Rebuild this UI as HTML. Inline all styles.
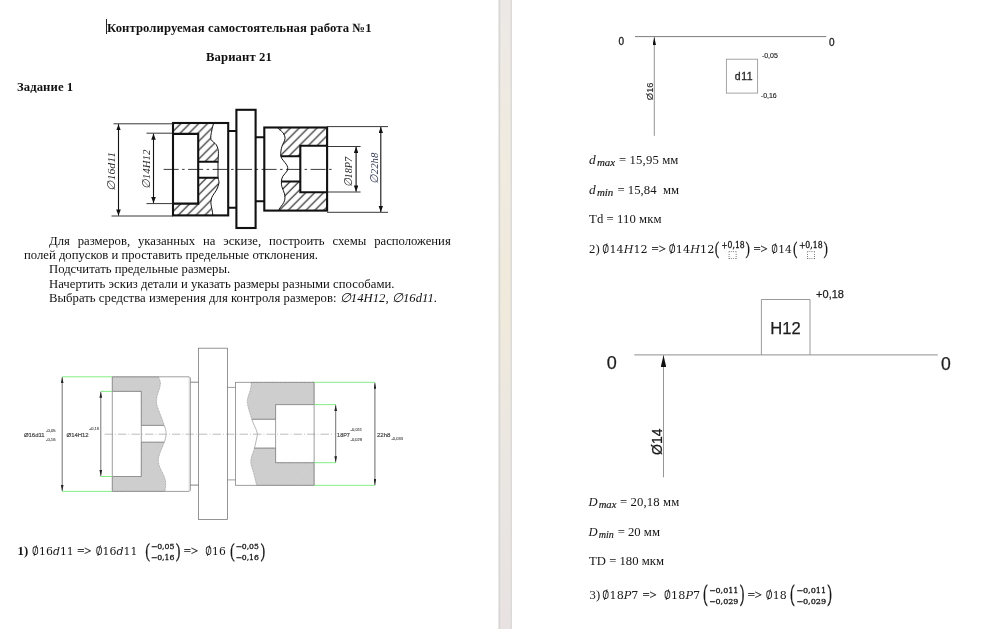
<!DOCTYPE html>
<html lang="ru">
<head>
<meta charset="utf-8">
<title>Контролируемая самостоятельная работа №1</title>
<style>
html,body{margin:0;padding:0;}
body{width:1000px;height:629px;position:relative;overflow:hidden;background:#fff;
  font-family:"Liberation Serif",serif;color:#111;}
.page{position:absolute;top:0;height:629px;background:#fff;}
#p1{left:0;width:498px;}
#p2{left:512px;width:488px;}
#gap{position:absolute;left:499px;top:0;width:13px;height:629px;background:#ece8e3;}
.t{will-change:transform;position:absolute;white-space:nowrap;font-size:12.7px;line-height:14px;height:14px;margin:0;}
.b{font-weight:bold;}
.i{font-style:italic;}
.m{font-family:"DejaVu Serif","Liberation Serif",serif;}
#caret{position:absolute;left:106px;top:19px;width:1px;height:15px;background:#222;}
svg{position:absolute;left:0;top:0;will-change:transform;}
</style>
</head>
<body>
<div id="p1" class="page"></div>
<div id="gap"></div>
<div id="p2" class="page"></div>

<!-- LEFT PAGE TEXT -->
<div id="caret"></div>
<h1 class="t b" id="t1" style="left:107px;top:21px;letter-spacing:0.08px;">Контролируемая самостоятельная работа №1</h1>
<h2 class="t b" id="t2" style="left:206px;top:50px;letter-spacing:0.1px;">Вариант 21</h2>
<h3 class="t b" id="t3" style="left:16.5px;top:80px;letter-spacing:0.08px;">Задание 1</h3>

<p class="t" id="l1" style="left:49px;top:234px;word-spacing:4.75px;">Для размеров, указанных на эскизе, построить схемы расположения</p>
<p class="t" id="l2" style="left:24px;top:248px;">полей допусков и проставить предельные отклонения.</p>
<p class="t" id="l3" style="left:49px;top:262px;">Подсчитать предельные размеры.</p>
<p class="t" id="l4" style="left:49px;top:277px;letter-spacing:0.025px;">Начертить эскиз детали и указать размеры разными способами.</p>
<p class="t" id="l5" style="left:49px;top:291px;letter-spacing:0.035px;">Выбрать средства измерения для контроля размеров: <i>∅14H12, ∅16d11.</i></p>

<!-- DRAWINGS -->
<svg id="draw" width="1000" height="629" viewBox="0 0 1000 629">

<!-- page gap -->
<defs>
  <linearGradient id="gg" x1="0" y1="0" x2="0" y2="1">
    <stop offset="0" stop-color="#ece8e6"/>
    <stop offset="0.22" stop-color="#f0ebe0"/>
    <stop offset="0.5" stop-color="#f0eadc"/>
    <stop offset="0.74" stop-color="#eae6e2"/>
    <stop offset="1" stop-color="#e8e3e2"/>
  </linearGradient>
</defs>
<rect x="498" y="0" width="15" height="629" fill="#fff"/>
<rect x="498.6" y="0" width="13.4" height="629" fill="url(#gg)"/>
<rect x="498.6" y="0" width="1.6" height="629" fill="#d8d6d4"/>
<rect x="510.5" y="0" width="1.5" height="629" fill="#dcdad8"/>

<defs>
  <pattern id="h1" patternUnits="userSpaceOnUse" width="8.9" height="8.9" patternTransform="translate(1.8,0)">
    <path d="M-1,9.9 L9.9,-1 M-1,1 L1,-1 M7.9,9.9 L9.9,7.9" stroke="#0c0c0c" stroke-width="1.05" fill="none"/>
  </pattern>
  <pattern id="h2" patternUnits="userSpaceOnUse" width="8.9" height="8.9">
    <path d="M-1,9.9 L9.9,-1 M-1,1 L1,-1 M7.9,9.9 L9.9,7.9" stroke="#0c0c0c" stroke-width="1.05" fill="none"/>
  </pattern>
  <marker id="ar" preserveAspectRatio="none" viewBox="0 0 10 6" refX="10" refY="3" markerWidth="6.2" markerHeight="4.6" orient="auto-start-reverse" markerUnits="userSpaceOnUse">
    <path d="M0,0 L10,3 L0,6 Z" fill="#111"/>
  </marker>
</defs>
<!-- ===== Drawing 1 : task sketch ===== -->
<g id="d1" fill="none" stroke="#111" stroke-linecap="butt" stroke-linejoin="miter">
  <!-- hatch left block -->
  <path fill="url(#h1)" stroke="none" d="M173,123 L213.6,123 L211.9,129.9 L211,139.5 L216.3,144.8 L218.4,153.5 L218,161.8 L198.2,161.8 L198.2,133.9 L173,133.9 Z"/>
  <path fill="url(#h1)" stroke="none" d="M173,203.6 L198.2,203.6 L198.2,177.8 L218,177.8 L218.9,183.3 L216.3,190.3 L211.9,197.3 L211,204.3 L212.8,215.4 L173,215.4 Z"/>
  <!-- hatch right block -->
  <path fill="url(#h2)" stroke="none" d="M277.5,127.5 L327,127.5 L327,145.8 L300.3,145.8 L300.3,156.2 L280.7,156.2 L281.9,146.5 L285,138.6 L282.8,132.5 Z"/>
  <path fill="url(#h2)" stroke="none" d="M281.4,181.5 L300.3,181.5 L300.3,192.2 L327,192.2 L327,210.6 L278.4,210.6 L280.1,207.8 L284.5,200.8 L284.5,193.8 L281.9,186.8 Z"/>
  <!-- wavy break lines -->
  <path stroke-width="1" d="M213.6,123 C213,126 212.2,127.5 211.9,129.9 C211.4,133.5 210,137 211,139.5 C212.5,142 215,142.8 216.3,144.8 C217.8,147.5 218.6,150.5 218.4,153.5 C218.3,156.5 218.3,159 218,161.8 L218,177.8 C218.4,180 219.3,181.5 218.9,183.3 C218.4,186 217.5,188 216.3,190.3 C214.8,193 212.8,195 211.9,197.3 C211,199.8 210.7,202 211,204.3 C211.4,207.5 212.6,211 212.8,215.4"/>
  <path stroke-width="1" d="M277.5,127.5 C279,130 281.5,130.8 282.8,132.5 C284.3,134.4 285.2,136.5 285,138.6 C284.6,141.5 282.8,143.8 281.9,146.5 C281,149.5 280.6,152.5 280.7,156.2 C281.2,158 282.4,159.4 283.6,160.9 C285.2,163 287.4,165.2 287.7,167.5 C287.9,168.8 287.7,169.9 287.1,171 C286,173 283.8,174.4 282.8,176.3 C281.9,178 281.4,180 281.4,181.5 C281.3,183.4 281.4,185 281.9,186.8 C282.5,189.2 284,191.3 284.5,193.8 C285,196.2 285.2,198.6 284.5,200.8 C283.6,203.5 281.5,205.6 280.1,207.8 C279.5,208.8 278.9,209.6 278.4,210.6"/>
  <!-- centre line -->
  <path stroke-width="0.85" stroke="#1a1a1a" stroke-dasharray="15 3.5 2.5 3.5" d="M163.6,169.4 L335,169.4"/>
  <!-- thick outlines -->
  <g stroke-width="2.1">
    <rect x="173" y="123" width="55.2" height="92.4"/>
    <path d="M173,133.9 L198.2,133.9 L198.2,203.6 L173,203.6"/>
    <path d="M198.2,161.8 L218.4,161.8 M198.2,177.8 L218.4,177.8"/>
    <path d="M228.2,131 L236.4,131 M228.2,207.7 L236.4,207.7"/>
    <rect x="236.4" y="109.8" width="19.2" height="118.2"/>
    <path d="M255.6,137.2 L264.3,137.2 M255.6,201.2 L264.3,201.2"/>
    <rect x="264.3" y="127.5" width="62.8" height="83.1"/>
    <path d="M327,145.8 L300.3,145.8 L300.3,192.2 L327,192.2"/>
    <path d="M281,156.2 L300.3,156.2 M281.4,181.5 L300.3,181.5"/>
  </g>
  <!-- extension + dimension lines -->
  <g stroke-width="0.9" stroke="#222">
    <path d="M113.5,123.8 L173,123.8 M111.5,216 L173,216"/>
    <path d="M146.5,133.2 L173,133.2 M146.5,203.6 L173,203.6"/>
    <path d="M327,126.6 L388,126.6 M327,212.3 L388,212.3"/>
    <path d="M327,146.5 L360.6,146.5 M327,192 L360.6,192"/>
    <g stroke-width="1.1" stroke="#111">
    <path d="M118.5,124.2 L118.5,215.6" marker-start="url(#ar)" marker-end="url(#ar)"/>
    <path d="M153.5,133.6 L153.5,203.2" marker-start="url(#ar)" marker-end="url(#ar)"/>
    <path d="M356.1,146.9 L356.1,191.6" marker-start="url(#ar)" marker-end="url(#ar)"/>
    <path d="M380.8,127 L380.8,211.9" marker-start="url(#ar)" marker-end="url(#ar)"/>
    </g>
  </g>
</g>
<g font-family="'Liberation Serif',serif" font-style="italic" font-size="11.2" fill="#2a2a2a" text-anchor="middle">
  <text transform="translate(114.8,171.4) rotate(-90)" textLength="38.8" lengthAdjust="spacingAndGlyphs">∅16d11</text>
  <text transform="translate(150.1,169.2) rotate(-90)" textLength="39.4" lengthAdjust="spacingAndGlyphs">∅14H12</text>
  <text transform="translate(352.2,172.2) rotate(-90)" textLength="30.6" lengthAdjust="spacingAndGlyphs">∅18P7</text>
  <text transform="translate(378.3,168.3) rotate(-90)" textLength="31.1" lengthAdjust="spacingAndGlyphs" fill="#2c3550">∅22h8</text>
</g>

<!-- ===== Drawing 2 : CAD sketch ===== -->
<defs>
  <pattern id="h3" patternUnits="userSpaceOnUse" width="1.7" height="8" patternTransform="rotate(45)">
    <rect width="1.7" height="8" fill="#efefef"/>
    <rect x="0.5" width="0.62" height="8" fill="#959595"/>
  </pattern>
  <marker id="ar2" preserveAspectRatio="none" viewBox="0 0 10 5" refX="10" refY="2.5" markerWidth="6" markerHeight="2.7" orient="auto-start-reverse" markerUnits="userSpaceOnUse">
    <path d="M0,0 L10,2.5 L0,5 Z" fill="#222"/>
  </marker>
</defs>
<g id="d2" fill="none" stroke="#868686" stroke-width="0.8">
  <!-- hatched regions -->
  <path fill="url(#h3)" stroke="#777" stroke-width="0.5" stroke-dasharray="1 0.6" d="M112.3,376.8 L158.5,376.8 C159.5,379.5 160.6,381.5 160.4,384.1 C160,389.5 157,394 156.6,399.3 C156.3,402.5 156.8,405.5 157.9,408.2 C160,414 162.6,419.5 164.2,425.4 L141.3,425.4 L141.3,391.4 L112.3,391.4 Z"/>
  <path fill="url(#h3)" stroke="#777" stroke-width="0.5" stroke-dasharray="1 0.6" d="M141.3,442.2 L164.2,442.2 C162.6,447.5 159.6,452.5 158.5,458.1 C157.9,461.2 158.6,464.2 159.8,467 C161.6,471.5 164.6,476 165.5,481 C166.1,484.5 165.5,488 164.9,491.4 L112.3,491.4 L112.3,476.5 L141.3,476.5 Z"/>
  <path fill="url(#h3)" stroke="#777" stroke-width="0.5" stroke-dasharray="1 0.6" d="M251.2,382.3 L314.1,382.3 L314.1,404.6 L275.6,404.6 L275.6,419.3 L251.8,419.3 C250.2,413.5 247.6,407.8 247.3,401.8 C247.1,397.5 249.6,393.4 250.5,389.1 C251,386.8 251.2,384.6 251.2,382.3 Z"/>
  <path fill="url(#h3)" stroke="#777" stroke-width="0.5" stroke-dasharray="1 0.6" d="M254.5,448.1 L275.6,448.1 L275.6,462.7 L314.1,462.7 L314.1,485.3 L256.5,485.3 C255.9,481.4 254.6,477.6 253.8,473.8 C252.8,469.3 250.3,464.9 250.8,460.3 C251.3,456 253.4,452.2 254.5,448.1 Z"/>
  <!-- hole ends (arcs) -->
  <path d="M164.2,425.4 C166.7,430.8 166.7,436.8 164.2,442.2" stroke-width="0.6"/>
  <path d="M251.8,419.3 C253.4,424.5 256.6,429 257.5,434.2 C256.8,439 255.4,443.5 254.5,448.1" stroke-width="0.6"/>
  <!-- centre line -->
  <path stroke="#aaa" stroke-width="0.8" stroke-dasharray="8.4 2.1 0.9 2.1" d="M104.5,434.2 L334.5,434.2"/>
  <!-- left block -->
  <path d="M112.3,376.8 L189.2,376.8 L190.4,378 L190.4,490.2 L189.2,491.4 L112.3,491.4 Z"/>
  <path d="M189.2,376.8 L189.2,491.4" stroke="#b5b5b5" stroke-width="0.6"/>
  <path d="M112.3,391.4 L141.3,391.4 L141.3,476.5 L112.3,476.5"/>
  <path d="M141.3,425.4 L164.2,425.4 M141.3,442.2 L164.2,442.2"/>
  <!-- necks -->
  <path d="M190.4,382.2 L198.5,382.2 M190.4,485.1 L198.5,485.1" stroke="#666"/>
  <path d="M227.5,387.4 L235.5,387.4 M227.5,479.9 L235.5,479.9" stroke="#888"/>
  <!-- flange -->
  <rect x="198.5" y="348.2" width="29" height="171.2" stroke="#7a7a7a"/>
  <!-- right block -->
  <rect x="235.5" y="382.3" width="78.6" height="103"/>
  <path d="M314.1,404.6 L275.6,404.6 L275.6,462.7 L314.1,462.7"/>
  <path d="M251.8,419.3 L275.6,419.3 M254.5,448.1 L275.6,448.1"/>
  <!-- green extension lines -->
  <g stroke="#6ee96e" stroke-width="0.85">
    <path d="M62,376.8 L112.3,376.8 M62,491.4 L112.3,491.4"/>
    <path d="M100.6,391.4 L112.3,391.4 M100.6,476.5 L112.3,476.5"/>
    <path d="M314.1,382.3 L375,382.3 M314.1,485.3 L375,485.3"/>
    <path d="M314.1,404.6 L336,404.6 M314.1,462.7 L336,462.7"/>
  </g>
  <!-- dimension lines -->
  <g stroke="#333" stroke-width="0.7">
    <path d="M62.2,377.2 L62.2,491" marker-start="url(#ar2)" marker-end="url(#ar2)"/>
    <path d="M100.8,391.8 L100.8,476.1" stroke="#666" stroke-width="0.9" marker-start="url(#ar2)" marker-end="url(#ar2)"/>
    <path d="M335.7,405 L335.7,462.3" marker-start="url(#ar2)" marker-end="url(#ar2)"/>
    <path d="M374.9,382.7 L374.9,484.9" stroke="#777" stroke-width="1.1" marker-start="url(#ar2)" marker-end="url(#ar2)"/>
  </g>
</g>
<g font-family="'Liberation Sans',sans-serif" fill="#4a4a4a" stroke="#4a4a4a" stroke-width="0.2" font-size="5.9">
  <text x="23.9" y="436.6" textLength="20.8" lengthAdjust="spacingAndGlyphs">Ø16d11</text>
  <text x="46.2" y="431.7" font-size="4.2" stroke-width="0.12" textLength="9.5" lengthAdjust="spacingAndGlyphs">-0,05</text>
  <text x="46" y="440.6" font-size="4.2" stroke-width="0.12" textLength="9.5" lengthAdjust="spacingAndGlyphs">-0,16</text>
  <text x="66.5" y="436.6" textLength="22.2" lengthAdjust="spacingAndGlyphs">Ø14H12</text>
  <text x="89" y="430.3" font-size="4.2" stroke-width="0.12" textLength="10" lengthAdjust="spacingAndGlyphs">+0,18</text>
  <text x="337.1" y="436.5" textLength="12.8" lengthAdjust="spacingAndGlyphs">18P7</text>
  <text x="350.6" y="431" font-size="4.2" stroke-width="0.12" textLength="11.4" lengthAdjust="spacingAndGlyphs">-0,011</text>
  <text x="350.6" y="440.8" font-size="4.2" stroke-width="0.12" textLength="11.4" lengthAdjust="spacingAndGlyphs">-0,029</text>
  <text x="376.9" y="436.5" textLength="13.6" lengthAdjust="spacingAndGlyphs">22h8</text>
  <text x="391.4" y="440" font-size="4.2" stroke-width="0.12" textLength="11.6" lengthAdjust="spacingAndGlyphs">-0,033</text>
</g>

<!-- ===== Diagram A : d11 tolerance field ===== -->
<defs>
  <marker id="ar3" preserveAspectRatio="none" viewBox="0 0 12 6" refX="12" refY="3" markerWidth="8" markerHeight="3.4" orient="auto" markerUnits="userSpaceOnUse">
    <path d="M0,0 L12,3 L0,6 Z" fill="#111"/>
  </marker>
  <marker id="ar4" preserveAspectRatio="none" viewBox="0 0 12 6" refX="12" refY="3" markerWidth="12" markerHeight="5.6" orient="auto" markerUnits="userSpaceOnUse">
    <path d="M0,0 L12,3 L0,6 Z" fill="#111"/>
  </marker>
</defs>
<g id="dA" fill="none">
  <path d="M635,36.6 L826.3,36.6" stroke="#6e6e6e" stroke-width="0.9"/>
  <path d="M654.3,135.8 L654.3,37" stroke="#777" stroke-width="0.8" marker-end="url(#ar3)"/>
  <rect x="726.4" y="59.2" width="31.2" height="33.9" stroke="#9a9a9a" stroke-width="0.9"/>
</g>
<g font-family="'Liberation Sans',sans-serif" fill="#222" stroke="#222" stroke-width="0.3">
  <text x="618.4" y="45.1" font-size="10">0</text>
  <text x="829" y="45.8" font-size="10">0</text>
  <text transform="translate(653.3,91.3) rotate(-90)" text-anchor="middle" font-size="9.4" stroke-width="0.1">Ø16</text>
  <text x="734.8" y="80.2" font-size="10.5" textLength="17.8" lengthAdjust="spacing" fill="#2a2a2a">d11</text>
  <text x="761.9" y="58.3" font-size="7" stroke-width="0.15">-0,05</text>
  <text x="760.8" y="97.9" font-size="7" stroke-width="0.15">-0,16</text>
</g>

<!-- ===== Diagram B : H12 tolerance field ===== -->
<g id="dB" fill="none">
  <path d="M634.3,354.9 L937.7,354.9" stroke="#a6a6a6" stroke-width="1.3"/>
  <path d="M663.5,477.3 L663.5,355.2" stroke="#8a8a8a" stroke-width="0.9" marker-end="url(#ar4)"/>
  <path d="M761.4,354.6 L761.4,299.5 L810,299.5 L810,354.6" stroke="#808080" stroke-width="0.8"/>
</g>
<g font-family="'Liberation Sans',sans-serif" fill="#1c1c1c" stroke="#1c1c1c" stroke-width="0.25">
  <text x="606.7" y="368.9" font-size="18">0</text>
  <text x="940.9" y="369.8" font-size="17.6">0</text>
  <text transform="translate(662.2,441.7) rotate(-90)" text-anchor="middle" font-size="14">Ø14</text>
  <text x="770.3" y="334" font-size="16.6">H12</text>
  <text x="816.1" y="297.9" font-size="11">+0,18</text>
</g>

<!-- ===== Equations & right page text ===== -->
<g fill="#161616">
<text font-family="'Liberation Serif',serif" font-size="12.7" font-weight="bold" x="17.6" y="554.6">1)</text>
<text font-family="'DejaVu Math TeX Gyre','DejaVu Serif',serif" font-size="11.8" x="31.8" y="554.6" textLength="42" lengthAdjust="spacingAndGlyphs">∅16<tspan font-family="'DejaVu Serif',serif" font-style="italic">d</tspan>11</text>
<text font-family="'Liberation Serif',serif" font-size="12.7" stroke="#161616" stroke-width="0.25" x="77.2" y="554.6">=&gt;</text>
<text font-family="'DejaVu Math TeX Gyre','DejaVu Serif',serif" font-size="11.8" x="95.4" y="554.6" textLength="42" lengthAdjust="spacingAndGlyphs">∅16<tspan font-family="'DejaVu Serif',serif" font-style="italic">d</tspan>11</text>
<text font-family="'DejaVu Math TeX Gyre','DejaVu Serif',serif" font-size="11.0" stroke="#161616" stroke-width="0.12" transform="translate(144.30,552.2) scale(1.288,1.923)" y="2.9">(</text>
<text font-family="'DejaVu Math TeX Gyre','DejaVu Serif',serif" font-size="8" stroke="#161616" stroke-width="0.3" x="151" y="549.0" textLength="23.5" lengthAdjust="spacingAndGlyphs">−0,05</text>
<text font-family="'DejaVu Math TeX Gyre','DejaVu Serif',serif" font-size="8" stroke="#161616" stroke-width="0.3" x="151" y="560.4" textLength="23.5" lengthAdjust="spacingAndGlyphs">−0,16</text>
<text font-family="'DejaVu Math TeX Gyre','DejaVu Serif',serif" font-size="11.0" stroke="#161616" stroke-width="0.12" transform="translate(175.49,552.2) scale(1.288,1.923)" y="2.9">)</text>
<text font-family="'Liberation Serif',serif" font-size="12.7" stroke="#161616" stroke-width="0.25" x="183.8" y="554.6">=&gt;</text>
<text font-family="'DejaVu Math TeX Gyre','DejaVu Serif',serif" font-size="11.8" x="205" y="554.6" textLength="20.8" lengthAdjust="spacingAndGlyphs">∅16</text>
<text font-family="'DejaVu Math TeX Gyre','DejaVu Serif',serif" font-size="11.0" stroke="#161616" stroke-width="0.12" transform="translate(228.90,552.2) scale(1.288,1.923)" y="2.9">(</text>
<text font-family="'DejaVu Math TeX Gyre','DejaVu Serif',serif" font-size="8" stroke="#161616" stroke-width="0.3" x="235.7" y="549.0" textLength="23.2" lengthAdjust="spacingAndGlyphs">−0,05</text>
<text font-family="'DejaVu Math TeX Gyre','DejaVu Serif',serif" font-size="8" stroke="#161616" stroke-width="0.3" x="235.7" y="560.4" textLength="23.2" lengthAdjust="spacingAndGlyphs">−0,16</text>
<text font-family="'DejaVu Math TeX Gyre','DejaVu Serif',serif" font-size="11.0" stroke="#161616" stroke-width="0.12" transform="translate(260.29,552.2) scale(1.288,1.923)" y="2.9">)</text>
<text font-family="'Liberation Serif',serif" font-style="italic" font-size="13.4" x="589.1" y="163.7">d</text>
<text font-family="'Liberation Serif',serif" font-style="italic" font-size="9.4" stroke="#161616" stroke-width="0.15" x="596.9" y="165.6" textLength="18.2" lengthAdjust="spacingAndGlyphs">max</text>
<text font-family="'Liberation Serif',serif" font-size="12.7" x="619" y="163.7" textLength="59.4" lengthAdjust="spacing">= 15,95 мм</text>
<text font-family="'Liberation Serif',serif" font-style="italic" font-size="13.4" x="589.1" y="193.9">d</text>
<text font-family="'Liberation Serif',serif" font-style="italic" font-size="9.4" stroke="#161616" stroke-width="0.15" x="596.9" y="195.8" textLength="16.4" lengthAdjust="spacingAndGlyphs">min</text>
<text font-family="'Liberation Serif',serif" font-size="12.7" x="617.4" y="193.9" xml:space="preserve" textLength="61.7" lengthAdjust="spacing">= 15,84  мм</text>
<text font-family="'Liberation Serif',serif" font-size="12.7" x="589.1" y="223" textLength="72.4" lengthAdjust="spacing">Td = 110 мкм</text>
<text font-family="'Liberation Serif',serif" font-size="12.7" x="589.1" y="252.9">2)</text>
<text font-family="'DejaVu Math TeX Gyre','DejaVu Serif',serif" font-size="11.8" x="602.1" y="252.9" textLength="45.5" lengthAdjust="spacingAndGlyphs">∅14<tspan font-family="'DejaVu Serif',serif" font-style="italic">H</tspan>12</text>
<text font-family="'Liberation Serif',serif" font-size="12.7" stroke="#161616" stroke-width="0.25" x="651.5" y="252.9">=&gt;</text>
<text font-family="'DejaVu Math TeX Gyre','DejaVu Serif',serif" font-size="11.8" x="668.4" y="252.9" textLength="46" lengthAdjust="spacingAndGlyphs">∅14<tspan font-family="'DejaVu Serif',serif" font-style="italic">H</tspan>12</text>
<text font-family="'DejaVu Math TeX Gyre','DejaVu Serif',serif" font-size="11.0" stroke="#161616" stroke-width="0.12" transform="translate(713.64,250.3) scale(1.220,1.750)" y="2.9">(</text>
<text font-family="'DejaVu Math TeX Gyre','DejaVu Serif',serif" font-size="8.8" stroke="#161616" stroke-width="0.3" x="721.5" y="248.3" textLength="23.2" lengthAdjust="spacingAndGlyphs">+0,18</text>
<text font-family="'DejaVu Sans',sans-serif" font-size="10" x="732.5" y="258.4" text-anchor="middle" fill="#222">⬚</text>
<text font-family="'DejaVu Math TeX Gyre','DejaVu Serif',serif" font-size="11.0" stroke="#161616" stroke-width="0.12" transform="translate(745.33,250.3) scale(1.220,1.750)" y="2.9">)</text>
<text font-family="'Liberation Serif',serif" font-size="12.7" stroke="#161616" stroke-width="0.25" x="753.4" y="252.9">=&gt;</text>
<text font-family="'DejaVu Math TeX Gyre','DejaVu Serif',serif" font-size="11.8" x="771.1" y="252.9" textLength="20.8" lengthAdjust="spacingAndGlyphs">∅14</text>
<text font-family="'DejaVu Math TeX Gyre','DejaVu Serif',serif" font-size="11.0" stroke="#161616" stroke-width="0.12" transform="translate(792.04,250.3) scale(1.220,1.750)" y="2.9">(</text>
<text font-family="'DejaVu Math TeX Gyre','DejaVu Serif',serif" font-size="8.8" stroke="#161616" stroke-width="0.3" x="799.2" y="248.3" textLength="23.4" lengthAdjust="spacingAndGlyphs">+0,18</text>
<text font-family="'DejaVu Sans',sans-serif" font-size="10" x="811" y="258.4" text-anchor="middle" fill="#222">⬚</text>
<text font-family="'DejaVu Math TeX Gyre','DejaVu Serif',serif" font-size="11.0" stroke="#161616" stroke-width="0.12" transform="translate(823.13,250.3) scale(1.220,1.750)" y="2.9">)</text>
<text font-family="'Liberation Serif',serif" font-style="italic" font-size="12.6" x="588.5" y="505.8">D</text>
<text font-family="'Liberation Serif',serif" font-style="italic" font-size="9.4" stroke="#161616" stroke-width="0.15" x="598.7" y="507.7" textLength="17.7" lengthAdjust="spacingAndGlyphs">max</text>
<text font-family="'Liberation Serif',serif" font-size="12.7" x="619.9" y="505.8" textLength="59.4" lengthAdjust="spacing">= 20,18 мм</text>
<text font-family="'Liberation Serif',serif" font-style="italic" font-size="12.6" x="588.5" y="535.7">D</text>
<text font-family="'Liberation Serif',serif" font-style="italic" font-size="9.4" stroke="#161616" stroke-width="0.15" x="598.7" y="537.6" textLength="15.1" lengthAdjust="spacingAndGlyphs">min</text>
<text font-family="'Liberation Serif',serif" font-size="12.7" x="617.7" y="535.7">= 20 мм</text>
<text font-family="'Liberation Serif',serif" font-size="12.7" x="589.1" y="565.1">TD = 180 мкм</text>
<text font-family="'Liberation Serif',serif" font-size="12.7" x="589.6" y="598.6">3)</text>
<text font-family="'DejaVu Math TeX Gyre','DejaVu Serif',serif" font-size="11.8" x="602.1" y="598.6" textLength="36.4" lengthAdjust="spacingAndGlyphs">∅18<tspan font-family="'DejaVu Serif',serif" font-style="italic">P</tspan>7</text>
<text font-family="'Liberation Serif',serif" font-size="12.7" stroke="#161616" stroke-width="0.25" x="642.4" y="598.6">=&gt;</text>
<text font-family="'DejaVu Math TeX Gyre','DejaVu Serif',serif" font-size="11.8" x="663.7" y="598.6" textLength="36.4" lengthAdjust="spacingAndGlyphs">∅18<tspan font-family="'DejaVu Serif',serif" font-style="italic">P</tspan>7</text>
<text font-family="'DejaVu Math TeX Gyre','DejaVu Serif',serif" font-size="11.0" stroke="#161616" stroke-width="0.12" transform="translate(702.10,595.5) scale(1.288,2.250)" y="2.9">(</text>
<text font-family="'DejaVu Math TeX Gyre','DejaVu Serif',serif" font-size="8" stroke="#161616" stroke-width="0.3" x="709.3" y="593.1" textLength="29" lengthAdjust="spacingAndGlyphs">−0,011</text>
<text font-family="'DejaVu Math TeX Gyre','DejaVu Serif',serif" font-size="8" stroke="#161616" stroke-width="0.3" x="709.3" y="603.5" textLength="29" lengthAdjust="spacingAndGlyphs">−0,029</text>
<text font-family="'DejaVu Math TeX Gyre','DejaVu Serif',serif" font-size="11.0" stroke="#161616" stroke-width="0.12" transform="translate(739.59,595.5) scale(1.288,2.250)" y="2.9">)</text>
<text font-family="'Liberation Serif',serif" font-size="12.7" stroke="#161616" stroke-width="0.25" x="747.7" y="598.6">=&gt;</text>
<text font-family="'DejaVu Math TeX Gyre','DejaVu Serif',serif" font-size="11.8" x="765.4" y="598.6" textLength="21.3" lengthAdjust="spacingAndGlyphs">∅18</text>
<text font-family="'DejaVu Math TeX Gyre','DejaVu Serif',serif" font-size="11.0" stroke="#161616" stroke-width="0.12" transform="translate(788.90,595.5) scale(1.288,2.250)" y="2.9">(</text>
<text font-family="'DejaVu Math TeX Gyre','DejaVu Serif',serif" font-size="8" stroke="#161616" stroke-width="0.3" x="796.5" y="593.1" textLength="29.7" lengthAdjust="spacingAndGlyphs">−0,011</text>
<text font-family="'DejaVu Math TeX Gyre','DejaVu Serif',serif" font-size="8" stroke="#161616" stroke-width="0.3" x="796.5" y="603.5" textLength="29.7" lengthAdjust="spacingAndGlyphs">−0,029</text>
<text font-family="'DejaVu Math TeX Gyre','DejaVu Serif',serif" font-size="11.0" stroke="#161616" stroke-width="0.12" transform="translate(826.99,595.5) scale(1.288,2.250)" y="2.9">)</text>
</g>
</svg>

</body>
</html>
